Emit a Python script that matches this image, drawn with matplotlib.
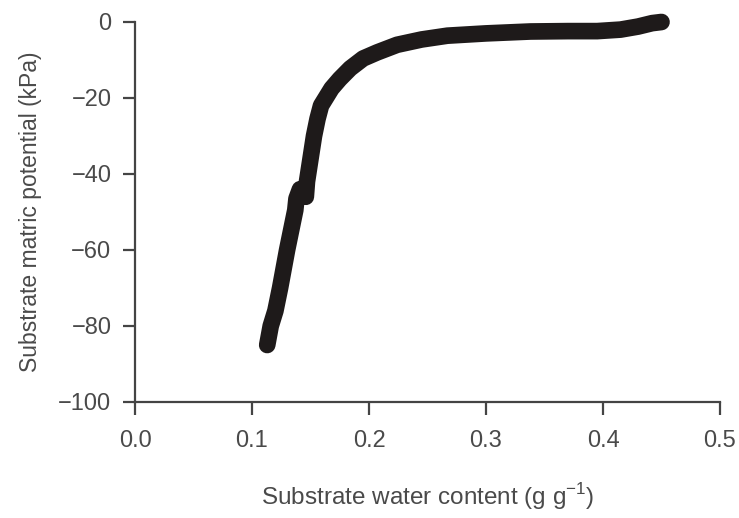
import matplotlib
matplotlib.use("Agg")
import matplotlib.pyplot as plt

# Data (water content g/g, matric potential kPa)
water_content = [0.113, 0.116, 0.120, 0.124, 0.127, 0.130, 0.134, 0.137, 0.138,
                 0.141, 0.144, 0.146, 0.147, 0.150, 0.153, 0.156, 0.159, 0.163,
                 0.168, 0.175, 0.184, 0.195, 0.207, 0.224, 0.245, 0.267, 0.300,
                 0.338, 0.370, 0.395, 0.415, 0.430, 0.442, 0.450]
matric_potential = [-85.0, -80.0, -76.0, -70.0, -65.0, -60.0, -54.0, -49.5, -46.5,
                    -44.0, -44.5, -46.0, -42.0, -36.0, -30.0, -25.5, -22.0, -20.0,
                    -17.5, -15.0, -12.2, -9.6, -8.0, -6.0, -4.6, -3.6, -3.0,
                    -2.5, -2.4, -2.4, -2.0, -1.2, -0.3, 0.0]

x_ticks = [0.0, 0.1, 0.2, 0.3, 0.4, 0.5]
x_tick_labels = ["0.0", "0.1", "0.2", "0.3", "0.4", "0.5"]
y_ticks = [0, -20, -40, -60, -80, -100]
y_tick_labels = ["0", "\u221220", "\u221240", "\u221260", "\u221280", "\u2212100"]

plt.rcParams["font.family"] = ["Liberation Sans", "DejaVu Sans"]
plt.rcParams["mathtext.fontset"] = "custom"
plt.rcParams["mathtext.rm"] = "Liberation Sans"
text_color = "#4a4a4a"
spine_color = "#444444"

fig = plt.figure(figsize=(7.39, 5.18), dpi=100)
ax = fig.add_axes([135 / 739, 1 - 402 / 518, 585 / 739, 380 / 518])

ax.plot(water_content, matric_potential, color="#1e1a1a", linewidth=12,
        solid_capstyle="round", solid_joinstyle="round", clip_on=False)

ax.set_xlim(0, 0.5)
ax.set_ylim(-100, 0)
ax.set_xticks(x_ticks)
ax.set_xticklabels(x_tick_labels)
ax.set_yticks(y_ticks)
ax.set_yticklabels(y_tick_labels)

for side in ["top", "right"]:
    ax.spines[side].set_visible(False)
for side in ["left", "bottom"]:
    ax.spines[side].set_color(spine_color)
    ax.spines[side].set_linewidth(1.6)

ax.tick_params(axis="both", direction="out", length=9, width=1.6,
               color=spine_color, labelcolor=text_color, labelsize=17)
ax.tick_params(axis="x", pad=11)
ax.tick_params(axis="y", pad=8)

ax.set_xlabel("Substrate water content (g g$^{\\mathrm{-1}}$)", fontsize=17.5,
              color=text_color, labelpad=21)
ax.set_ylabel("Substrate matric potential (kPa)", fontsize=16.5,
              color=text_color, labelpad=12)

fig.savefig("out.png", dpi=100, facecolor="white")
